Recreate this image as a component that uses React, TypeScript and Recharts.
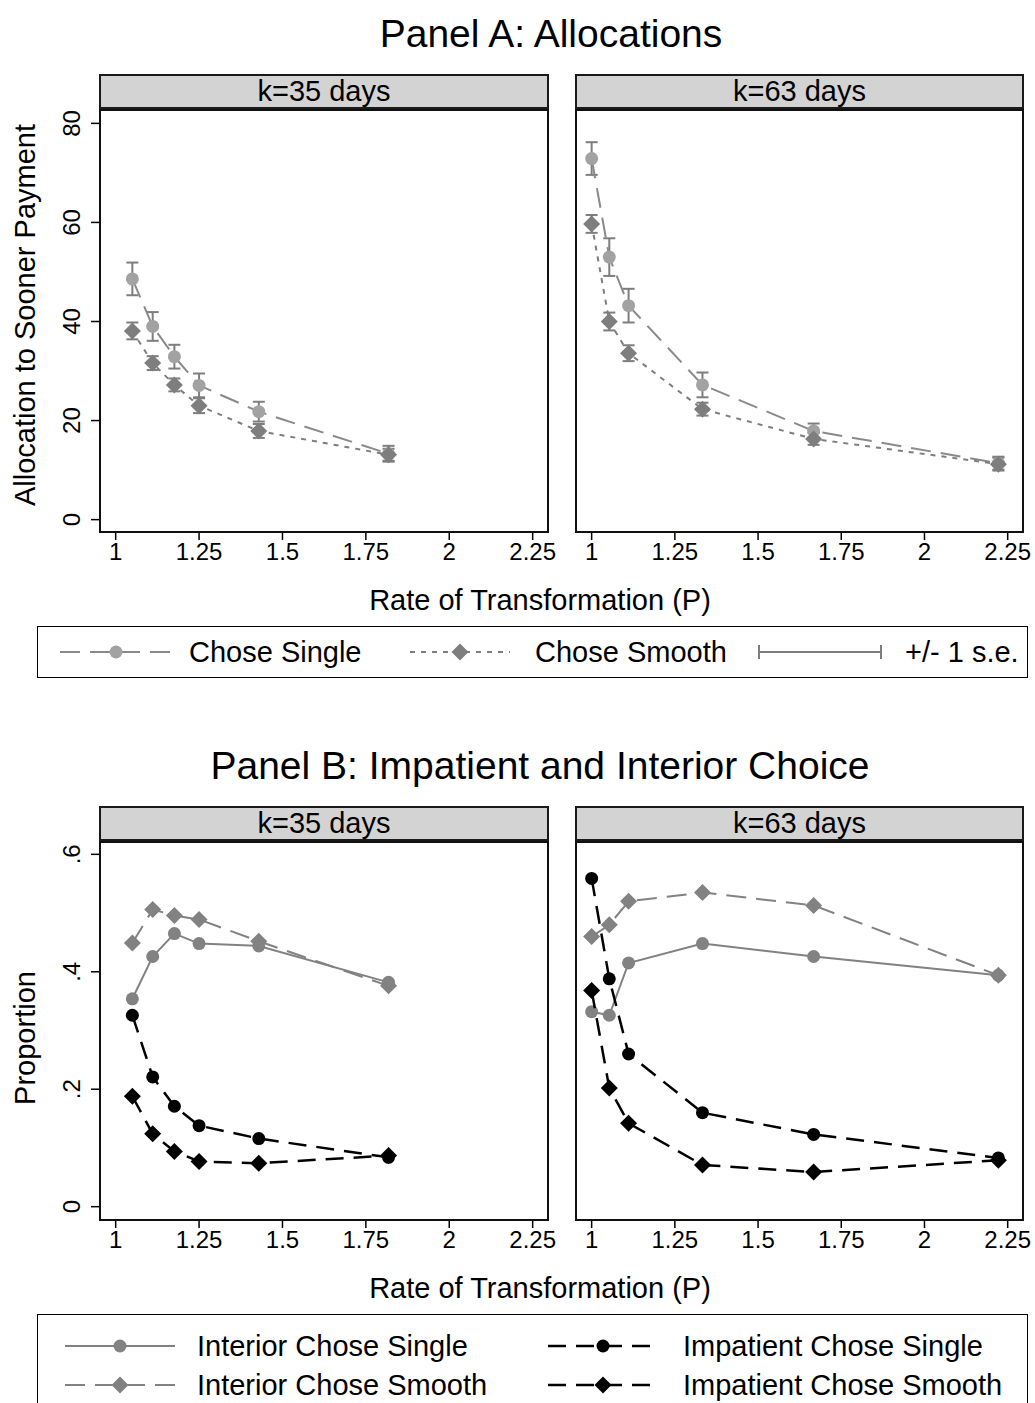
import React from 'react';
import { ScatterChart, Scatter, XAxis, YAxis, ErrorBar } from 'recharts';

const FONT = '"Liberation Sans", Arial, Helvetica, sans-serif';

// rate of transformation (P) for each delay length
const pK35 = [1.05, 1.111, 1.176, 1.25, 1.429, 1.818];
const pK63 = [1.0, 1.053, 1.111, 1.333, 1.667, 2.222];
const xTicks = [1, 1.25, 1.5, 1.75, 2, 2.25];

// Panel A: allocation to sooner payment (+/- 1 s.e.)
const singleK35 = [48.6, 39.0, 32.9, 27.1, 21.8, 13.3];
const singleSeK35 = [3.3, 2.9, 2.4, 2.4, 2.0, 1.6];
const smoothK35 = [38.1, 31.6, 27.2, 23.0, 17.9, 13.1];
const smoothSeK35 = [1.7, 1.4, 1.3, 1.5, 1.4, 1.2];
const singleK63 = [72.9, 53.0, 43.2, 27.2, 17.9, 11.4];
const singleSeK63 = [3.3, 3.8, 3.4, 2.5, 1.5, 1.3];
const smoothK63 = [59.7, 40.0, 33.6, 22.3, 16.3, 11.2];
const smoothSeK63 = [1.8, 1.8, 1.6, 1.3, 1.2, 1.3];
const allocTicks = [0, 20, 40, 60, 80];

// Panel B: proportions of interior and impatient choices
const intSingleK35 = [0.354, 0.426, 0.465, 0.448, 0.444, 0.382];
const intSmoothK35 = [0.449, 0.506, 0.496, 0.489, 0.452, 0.376];
const impSingleK35 = [0.326, 0.221, 0.171, 0.138, 0.116, 0.084];
const impSmoothK35 = [0.188, 0.124, 0.094, 0.077, 0.074, 0.087];
const intSingleK63 = [0.332, 0.326, 0.415, 0.448, 0.426, 0.394];
const intSmoothK63 = [0.46, 0.48, 0.52, 0.535, 0.513, 0.394];
const impSingleK63 = [0.559, 0.388, 0.26, 0.16, 0.123, 0.083];
const impSmoothK63 = [0.368, 0.202, 0.142, 0.071, 0.059, 0.079];
const propTicks = [0, 0.2, 0.4, 0.6];

const strips = ['k=35 days', 'k=63 days'];

type Row = { x: number; y: number; se?: number };
const rows = (xs: number[], ys: number[], se?: number[]): Row[] =>
  xs.map((x, i) => ({ x, y: ys[i], se: se ? se[i] : undefined }));

const circle = (fill: string, r: number) => (p: any) =>
  <circle cx={p.cx} cy={p.cy} r={r} fill={fill} />;
const diamond = (fill: string, h: number) => (p: any) =>
  <path d={`M${p.cx},${p.cy - h}L${p.cx + h},${p.cy}L${p.cx},${p.cy + h}L${p.cx - h},${p.cy}Z`} fill={fill} />;

const LIGHT = '#a2a2a2';
const MID = '#7e7e7e';
const GRAY = '#828282';
const BLACK = '#000';

const RotTick = (props: any) => {
  const { x, y, payload, fmt } = props;
  const bx = x - 9;
  return (
    <text x={bx} y={y} transform={`rotate(-90, ${bx}, ${y})`} textAnchor="middle"
      fontSize={24} fontFamily={FONT} fill="#000">{fmt(payload.value)}</text>
  );
};

type Series = {
  data: Row[];
  shape: (p: any) => React.ReactElement;
  color: string;
  width: number;
  dash?: string;
  err?: boolean;
};

type FacetProps = {
  x: number; top: number; w: number; h: number;
  strip: string;
  yDomain: [number, number];
  yTicks: number[];
  yFmt: (v: number) => string;
  showY: boolean;
  series: Series[];
};

const PAD_R = 24;

const Facet = ({ x, top, w, h, strip, yDomain, yTicks, yFmt, showY, series }: FacetProps) => {
  const chartLeft = showY ? x - 100 : x;
  const chartW = (showY ? w + 100 : w) + PAD_R;
  return (
    <>
      <div style={{
        position: 'absolute', left: x - 1, top: top - 36, width: w + 2, height: 35,
        boxSizing: 'border-box', background: '#d3d3d3', border: '2px solid #1a1a1a',
        fontSize: 29, lineHeight: '31px', textAlign: 'center', color: '#000',
      }}>{strip}</div>
      <div style={{ position: 'absolute', left: chartLeft, top }}>
        <ScatterChart width={chartW} height={h + 60} margin={{ top: 0, right: PAD_R, bottom: 0, left: 0 }}>
          <XAxis type="number" dataKey="x" domain={[0.953, 2.296]} ticks={xTicks} interval={0}
            allowDataOverflow axisLine={false} tickSize={8} tickMargin={3} height={60}
            tickLine={{ stroke: '#000', strokeWidth: 1.5 }}
            tick={{ fontSize: 24, fill: '#000', fontFamily: FONT }} />
          <YAxis type="number" dataKey="y" domain={yDomain} ticks={yTicks} interval={0}
            allowDataOverflow hide={!showY} width={100} axisLine={false} tickSize={9}
            tickLine={{ stroke: '#000', strokeWidth: 1.5 }}
            tick={(p: any) => <RotTick {...p} fmt={yFmt} />} />
          {series.map((s, i) => (
            <Scatter key={i} data={s.data} fill={s.color} shape={s.shape} isAnimationActive={false}
              line={{ stroke: s.color, strokeWidth: s.width, strokeDasharray: s.dash }}>
              {s.err && (
                <ErrorBar dataKey="se" direction="y" width={6} stroke={MID} strokeWidth={2} />
              )}
            </Scatter>
          ))}
        </ScatterChart>
      </div>
      <div style={{
        position: 'absolute', left: x - 1, top: top - 1, width: w + 2, height: h + 2,
        boxSizing: 'border-box', border: '2px solid #111', pointerEvents: 'none',
      }} />
    </>
  );
};

const Text = ({ x, y, children, size = 29, center = false }: any) => (
  <div style={{
    position: 'absolute', left: center ? x - 500 : x, top: y, width: center ? 1000 : undefined,
    transform: 'translateY(-50%)', fontSize: size, lineHeight: 1, whiteSpace: 'nowrap',
    textAlign: center ? 'center' : 'left', color: '#000',
  }}>{children}</div>
);

const YTitle = ({ x, y, children }: any) => (
  <div style={{
    position: 'absolute', left: x, top: y, transform: 'translate(-50%, -50%) rotate(-90deg)',
    fontSize: 29, lineHeight: 1, whiteSpace: 'nowrap', color: '#000',
  }}>{children}</div>
);

const Key = ({ x, y, w, color, width, dash, marker }: any) => (
  <svg style={{ position: 'absolute', left: x, top: y - 12 }} width={w} height={24}>
    <line x1={0} y1={12} x2={w} y2={12} stroke={color} strokeWidth={width} strokeDasharray={dash} />
    {marker && marker({ cx: w / 2, cy: 12 })}
  </svg>
);

const ErrKey = ({ x, y, w }: any) => (
  <svg style={{ position: 'absolute', left: x, top: y - 12 }} width={w} height={24}>
    <line x1={1} y1={12} x2={w - 1} y2={12} stroke={MID} strokeWidth={2} />
    <line x1={1} y1={5} x2={1} y2={19} stroke={MID} strokeWidth={2} />
    <line x1={w - 1} y1={5} x2={w - 1} y2={19} stroke={MID} strokeWidth={2} />
  </svg>
);

const fmtAlloc = (v: number) => String(v);
const fmtProp = (v: number) => (v === 0 ? '0' : String(v).replace(/^0\./, '.'));

const A_TOP = 110;
const A_H = 422;
const B_TOP = 842;
const B_H = 378;
const L_X = 100;
const L_W = 448;
const R_X = 576;
const R_W = 447;
const A_DOM: [number, number] = [-2.5, 82.7];
const B_DOM: [number, number] = [-0.0227, 0.621];

const aSeries = (xs: number[], s: number[], sse: number[], m: number[], mse: number[]): Series[] => [
  { data: rows(xs, s, sse), shape: circle(LIGHT, 6.5), color: '#8a8a8a', width: 2, dash: '20 10', err: true },
  { data: rows(xs, m, mse), shape: diamond(MID, 8.5), color: MID, width: 2, dash: '5 6', err: true },
];

const bSeries = (xs: number[], is: number[], im: number[], ps: number[], pm: number[]): Series[] => [
  { data: rows(xs, is), shape: circle(GRAY, 6.5), color: GRAY, width: 2 },
  { data: rows(xs, im), shape: diamond(GRAY, 8.5), color: GRAY, width: 2, dash: '20 10' },
  { data: rows(xs, ps), shape: circle(BLACK, 6.5), color: BLACK, width: 2.5, dash: '18 10' },
  { data: rows(xs, pm), shape: diamond(BLACK, 8.5), color: BLACK, width: 2.5, dash: '18 10' },
];

export default function App() {
  return (
    <div style={{
      position: 'absolute', left: 0, top: 0, width: 1035, height: 1403, overflow: 'hidden',
      background: '#fff', fontFamily: FONT,
    }}>
      {/* Panel A */}
      <Text x={551} y={33} size={39} center>Panel A: Allocations</Text>
      <YTitle x={25} y={315}>Allocation to Sooner Payment</YTitle>
      <Facet x={L_X} top={A_TOP} w={L_W} h={A_H} strip={strips[0]} yDomain={A_DOM} yTicks={allocTicks}
        yFmt={fmtAlloc} showY series={aSeries(pK35, singleK35, singleSeK35, smoothK35, smoothSeK35)} />
      <Facet x={R_X} top={A_TOP} w={R_W} h={A_H} strip={strips[1]} yDomain={A_DOM} yTicks={allocTicks}
        yFmt={fmtAlloc} showY={false} series={aSeries(pK63, singleK63, singleSeK63, smoothK63, smoothSeK63)} />
      <Text x={540} y={600} center>Rate of Transformation (P)</Text>
      <div style={{
        position: 'absolute', left: 37, top: 626, width: 991, height: 52,
        boxSizing: 'border-box', border: '1.5px solid #000',
      }} />
      <Key x={60} y={652} w={112} color="#8a8a8a" width={2} dash="20 10" marker={circle(LIGHT, 6.5)} />
      <Text x={189} y={652}>Chose Single</Text>
      <Key x={410} y={652} w={100} color={MID} width={2} dash="5 6" marker={diamond(MID, 8.5)} />
      <Text x={535} y={652}>Chose Smooth</Text>
      <ErrKey x={758} y={652} w={124} />
      <Text x={905} y={652}>+/- 1 s.e.</Text>

      {/* Panel B */}
      <Text x={540} y={765} size={39} center>Panel B: Impatient and Interior Choice</Text>
      <YTitle x={25} y={1038}>Proportion</YTitle>
      <Facet x={L_X} top={B_TOP} w={L_W} h={B_H} strip={strips[0]} yDomain={B_DOM} yTicks={propTicks}
        yFmt={fmtProp} showY series={bSeries(pK35, intSingleK35, intSmoothK35, impSingleK35, impSmoothK35)} />
      <Facet x={R_X} top={B_TOP} w={R_W} h={B_H} strip={strips[1]} yDomain={B_DOM} yTicks={propTicks}
        yFmt={fmtProp} showY={false} series={bSeries(pK63, intSingleK63, intSmoothK63, impSingleK63, impSmoothK63)} />
      <Text x={540} y={1288} center>Rate of Transformation (P)</Text>
      <div style={{
        position: 'absolute', left: 37, top: 1314, width: 991, height: 120,
        boxSizing: 'border-box', border: '1.5px solid #000',
      }} />
      <Key x={65} y={1346} w={110} color={GRAY} width={2} marker={circle(GRAY, 6.5)} />
      <Text x={197} y={1346}>Interior Chose Single</Text>
      <Key x={65} y={1385} w={110} color={GRAY} width={2} dash="20 10" marker={diamond(GRAY, 8.5)} />
      <Text x={197} y={1385}>Interior Chose Smooth</Text>
      <Key x={548} y={1346} w={110} color={BLACK} width={2.5} dash="18 10" marker={circle(BLACK, 6.5)} />
      <Text x={683} y={1346}>Impatient Chose Single</Text>
      <Key x={548} y={1385} w={110} color={BLACK} width={2.5} dash="18 10" marker={diamond(BLACK, 8.5)} />
      <Text x={683} y={1385}>Impatient Chose Smooth</Text>
    </div>
  );
}
